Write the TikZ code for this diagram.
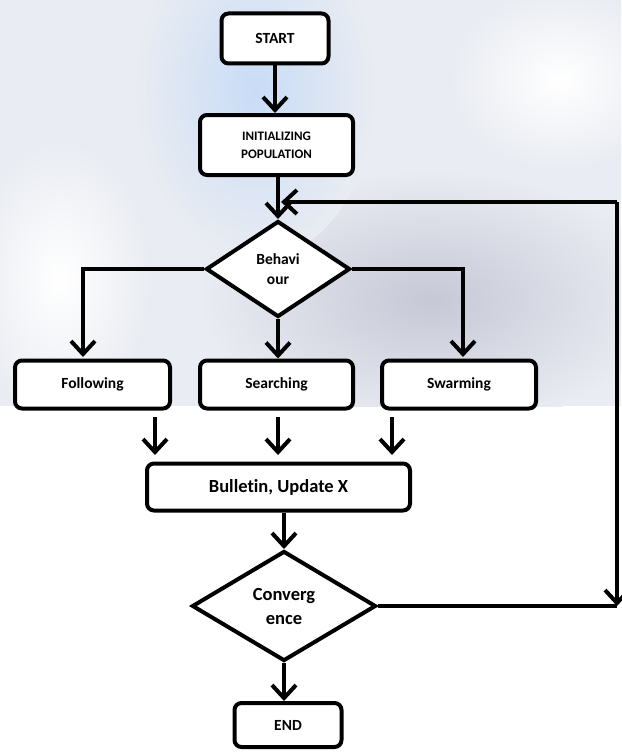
\documentclass[tikz,border=0pt]{standalone}
\usepackage{fontspec}
\setmainfont[Ligatures={NoCommon}]{Carlito}
\usetikzlibrary{arrows.meta,shapes.geometric}
\definecolor{wmblue}{HTML}{C8DCF6}
\definecolor{wmgray}{HTML}{C6C8D6}
\definecolor{wmlight}{HTML}{E9ECF2}
\begin{document}
\begin{tikzpicture}[x=1pt,y=-1pt,
  every node/.style={font=\bfseries},
  boxnode/.style={draw=black,line width=4pt,rounded corners=7pt,fill=white,align=center,inner sep=0pt},
  dianode/.style={draw=black,line width=4pt,diamond,fill=white,align=center,inner sep=0pt},
  conn/.style={line width=4pt},
  arr/.style={line width=4pt,-{Straight Barb[length=13pt,width=24pt,line width=4pt]}}]
\useasboundingbox (0,0) rectangle (621,752);
\fill[white] (0,0) rectangle (621,752);
% faint watermark tint
\begin{scope}
\clip (0,0) rectangle (621,406);
\fill[wmlight] (0,0) rectangle (621,406);
\shade[inner color=wmgray,outer color=wmlight] (430,300) ellipse (230 and 130);
\shade[inner color=wmblue,outer color=wmlight] (255,90) ellipse (120 and 170);
\shade[inner color=white,outer color=wmlight] (60,280) ellipse (90 and 140);
\shade[inner color=white,outer color=wmlight] (560,80) ellipse (110 and 90);
\end{scope}
% nodes
\node[boxnode,minimum width=107pt,minimum height=50pt,font=\bfseries\fontsize{15.5}{18}\selectfont] (start) at (275,38.5) {START};
\node[boxnode,minimum width=153pt,minimum height=60pt,font=\bfseries\fontsize{13}{18}\selectfont] (init) at (276.5,145) {INITIALIZING\\POPULATION};
\node[dianode,minimum width=144pt,minimum height=96pt,font=\bfseries\fontsize{15.5}{20}\selectfont] (beh) at (278,269) {Behavi\\our};
\node[boxnode,minimum width=155pt,minimum height=48pt,font=\bfseries\fontsize{15.5}{18}\selectfont] (fol) at (92.5,384.5) {Following};
\node[boxnode,minimum width=153pt,minimum height=48pt,font=\bfseries\fontsize{15.5}{18}\selectfont] (sea) at (276.5,384.5) {Searching};
\node[boxnode,minimum width=154pt,minimum height=48pt,font=\bfseries\fontsize{15.5}{18}\selectfont] (swa) at (459,384.5) {Swarming};
\node[boxnode,minimum width=263pt,minimum height=47pt,font=\bfseries\fontsize{18.5}{22}\selectfont] (bul) at (278.5,487) {Bulletin, Update X};
\node[dianode,minimum width=184pt,minimum height=110pt,font=\bfseries\fontsize{18.5}{24}\selectfont] (conv) at (284,606) {Converg\\ence};
\node[boxnode,minimum width=107pt,minimum height=44pt,font=\bfseries\fontsize{15.5}{18}\selectfont] (end) at (288,725) {END};
% coordinates
\coordinate (loopTR) at (617,202);
\coordinate (loopBR) at (loopTR |- conv.east);
\coordinate (folIn) at (83,357);
\coordinate (sweIn) at (463,357);
\coordinate (o1) at (155,417);
\coordinate (o2) at (278,417);
\coordinate (o3) at (392,417);
\coordinate (i1) at (155,455);
\coordinate (i2) at (278,455);
\coordinate (i3) at (392,455);
% connectors
\draw[arr] (start.south) -- (start.south |- init.north);
\draw[arr] (init.south -| beh.north) -- (beh.north);
\draw[arr] (beh.west) -| (folIn);
\draw[arr] (beh.south) -- (beh.south |- sea.north);
\draw[arr] (beh.east) -| (sweIn);
\draw[arr] (o1) -- (i1);
\draw[arr] (o2) -- (i2);
\draw[arr] (o3) -- (i3);
\draw[arr] (conv.north |- bul.south) -- (conv.north);
\draw[arr] (conv.south) -- (conv.south |- end.north);
\draw[conn] (conv.east) -- (loopBR);
\draw[arr] (loopTR) -- (loopBR);
\draw[arr] (loopTR) -- ([xshift=3pt]beh.north |- loopTR);
\end{tikzpicture}
\end{document}
